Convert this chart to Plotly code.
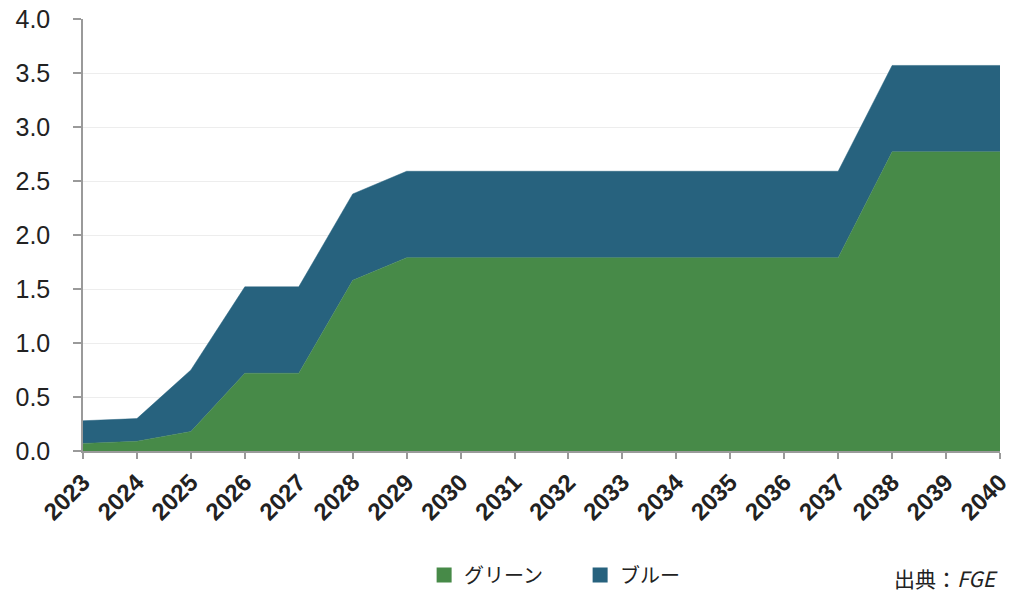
import plotly.graph_objects as go

years = list(range(2023, 2041))
green = [0.07, 0.09, 0.18, 0.72, 0.72, 1.58, 1.79, 1.79, 1.79, 1.79, 1.79, 1.79,
         1.79, 1.79, 1.79, 2.77, 2.77, 2.77]
blue = [0.21, 0.21, 0.57, 0.80, 0.80, 0.80, 0.80, 0.80, 0.80, 0.80, 0.80, 0.80,
        0.80, 0.80, 0.80, 0.80, 0.80, 0.80]
series_names = ["グリーン", "ブルー"]
y_ticks = [0, 0.5, 1.0, 1.5, 2.0, 2.5, 3.0, 3.5, 4.0]

GREEN = "#478A48"
BLUE = "#27627E"

fig = go.Figure()
for name, vals, col in [(series_names[0], green, GREEN), (series_names[1], blue, BLUE)]:
    fig.add_trace(go.Scatter(
        x=years, y=vals, name=name, stackgroup="one", mode="lines",
        line=dict(width=0.5, color=col), fillcolor=col, showlegend=False,
        hoverinfo="x+y+name",
    ))
    # square legend swatch
    fig.add_trace(go.Scatter(
        x=[None], y=[None], name=name, mode="markers",
        marker=dict(symbol="square", size=15, color=col), showlegend=True,
    ))

fig.update_layout(
    width=1009, height=592,
    margin=dict(l=83, r=9, t=19, b=141, autoexpand=False),
    paper_bgcolor="white", plot_bgcolor="white",
    font=dict(family="Liberation Sans, Arial, sans-serif", color="#222222"),
    showlegend=True,
    legend=dict(
        orientation="h", traceorder="normal",
        x=0.372, xanchor="left", y=-0.287, yanchor="middle",
        font=dict(family="Noto Sans CJK JP, sans-serif", size=20, color="#222222"),
        entrywidth=111, itemwidth=30, bgcolor="rgba(0,0,0,0)",
    ),
    annotations=[dict(
        text="出典：<i>FGE</i>", x=1.0, xref="paper", xanchor="right",
        y=-0.293, yref="paper", yanchor="middle", showarrow=False,
        font=dict(family="Noto Sans CJK JP, sans-serif", size=21, color="#222222"),
    )],
)

fig.update_xaxes(
    type="linear", range=[2023, 2040], tickvals=years, ticktext=[str(y) for y in years],
    tickangle=-45, ticklabeloverflow="allow", automargin=False,
    tickfont=dict(size=24, family="Liberation Sans, Arial, sans-serif",
                  weight="bold", color="#222222"),
    showgrid=False, showline=True, linecolor="#9A9A9A", linewidth=1.5,
    ticks="outside", ticklen=6, tickcolor="#9A9A9A", tickwidth=1.5, zeroline=False,
)
fig.update_yaxes(
    range=[0, 4.0], tickvals=y_ticks, tickformat=".1f", automargin=False,
    tickfont=dict(size=25, color="#222222"), ticklabelstandoff=18,
    showgrid=True, gridcolor="#EDEDED", gridwidth=1,
    showline=True, linecolor="#9A9A9A", linewidth=1.5,
    ticks="outside", ticklen=8, tickcolor="#9A9A9A", tickwidth=1.5, zeroline=False,
)

fig.write_html("out.html")
